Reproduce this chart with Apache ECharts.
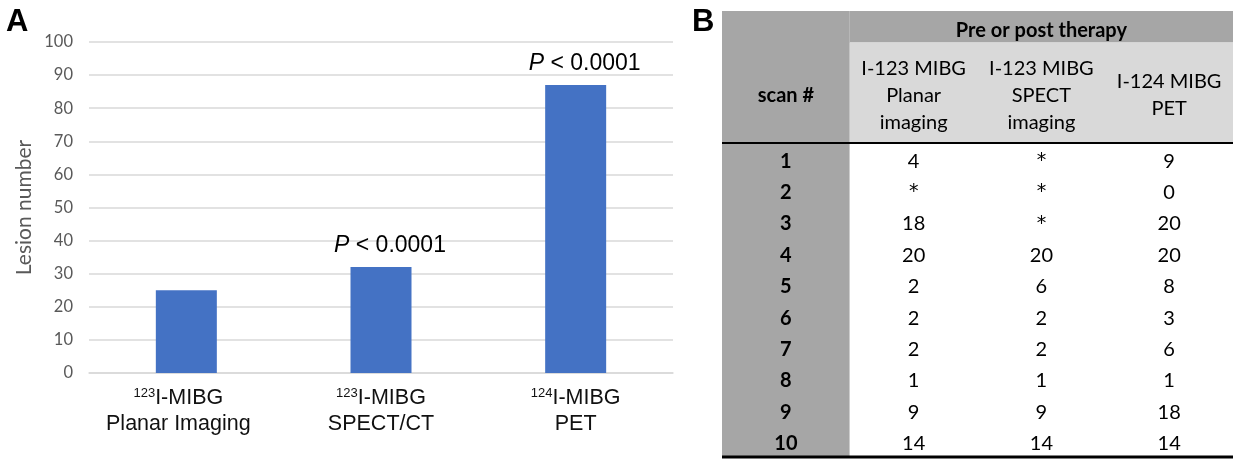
<!DOCTYPE html>
<html>
<head>
<meta charset="utf-8">
<script src="https://cdn.jsdelivr.net/npm/echarts@6/dist/echarts.min.js"></script>
<style>
  html, body { margin: 0; padding: 0; background: #fff; }
  #main { width: 1233px; height: 459px; }
</style>
</head>
<body>
<div id="main"></div>
<script>
// panel A data
var barIsotopes = ['123', '123', '124'];
var barNames = ['Planar Imaging', 'SPECT/CT', 'PET'];
var lesionCounts = [25, 32, 87];
var pLabels = ['', 'P < 0.0001', 'P < 0.0001'];
var yTicks = [0, 10, 20, 30, 40, 50, 60, 70, 80, 90, 100];

// panel B data
var groupHead = 'Pre or post therapy';
var rowHead = 'scan #';
var columnHeads = ['I-123 MIBG\nPlanar\nimaging', 'I-123 MIBG\nSPECT\nimaging', 'I-124 MIBG\nPET'];
var scanNumbers = ['1', '2', '3', '4', '5', '6', '7', '8', '9', '10'];
var planarCounts = ['4', '*', '18', '20', '2', '2', '2', '1', '9', '14'];
var spectCounts = ['*', '*', '*', '20', '6', '2', '2', '1', '9', '14'];
var petCounts = ['9', '0', '20', '20', '8', '3', '6', '1', '18', '14'];

var DARK = '#a6a6a6', LIGHT = '#d9d9d9';
var tableFont = 'Lato, "Noto Sans", sans-serif';
var arial = '"Liberation Sans", Arial, sans-serif';

// table layout in (column, row) units; header sits above row 0
var HEAD_TOP = -4.2, SUB_TOP = -3.2;
var nRows = scanNumbers.length;
var blocks = [
  { x0: 0, x1: 1, y0: HEAD_TOP, y1: nRows, fill: DARK },
  { x0: 1, x1: 4, y0: HEAD_TOP, y1: SUB_TOP, fill: DARK },
  { x0: 1, x1: 4, y0: SUB_TOP, y1: 0, fill: LIGHT },
  { x0: 1, x1: 4, y0: 0, y1: nRows, fill: '#fff' }
];
var cells = [];
cells.push({ x0: 0, x1: 1, y0: SUB_TOP, y1: 0, text: rowHead, bold: true });
cells.push({ x0: 1, x1: 4, y0: HEAD_TOP, y1: SUB_TOP, text: groupHead, bold: true, dy: 4 });
columnHeads.forEach(function (h, c) {
  cells.push({ x0: c + 1, x1: c + 2, y0: SUB_TOP, y1: 0, text: h });
});
scanNumbers.forEach(function (s, r) {
  cells.push({ x0: 0, x1: 1, y0: r, y1: r + 1, text: s, bold: true });
  [planarCounts, spectCounts, petCounts].forEach(function (col, c) {
    cells.push({ x0: c + 1, x1: c + 2, y0: r, y1: r + 1, text: col[r] });
  });
});
var rules = [
  { x0: 0, x1: 4, y: 0, w: 2 },
  { x0: 0, x1: 4, y: nRows, w: 3 }
];

function renderBlock(params, api) {
  var d = blocks[params.dataIndex];
  var p0 = api.coord([d.x0, d.y0]);
  var p1 = api.coord([d.x1, d.y1]);
  return { type: 'rect', shape: { x: p0[0], y: p0[1], width: p1[0] - p0[0], height: p1[1] - p0[1] },
           style: { fill: d.fill } };
}

function renderCell(params, api) {
  var d = cells[params.dataIndex];
  var p0 = api.coord([d.x0, d.y0]);
  var p1 = api.coord([d.x1, d.y1]);
  var star = d.text === '*';
  return {
    type: 'text', style: {
      text: d.text, x: (p0[0] + p1[0]) / 2, y: (p0[1] + p1[1]) / 2 + (d.dy || 2.5),
      align: 'center', verticalAlign: 'middle',
      fontFamily: star ? '"DejaVu Sans"' : tableFont, fontSize: star ? 19 : 20, lineHeight: 27,
      fontWeight: d.bold ? 'bold' : 'normal', fill: '#000'
    }
  };
}

function renderRule(params, api) {
  var d = rules[params.dataIndex];
  var a = api.coord([d.x0, d.y]);
  var b = api.coord([d.x1, d.y]);
  return { type: 'line', shape: { x1: a[0], y1: a[1], x2: b[0], y2: b[1] },
           style: { stroke: '#000', lineWidth: d.w } };
}

var chart = echarts.init(document.getElementById('main'));
chart.setOption({
  animation: false,
  textStyle: { fontFamily: arial },
  graphic: [
    { type: 'text', left: 6, top: 7, style: { text: 'A', fontSize: 31, fontWeight: 'bold', fill: '#000', fontFamily: arial } },
    { type: 'text', left: 692, top: 7, style: { text: 'B', fontSize: 31, fontWeight: 'bold', fill: '#000', fontFamily: arial } }
  ],
  grid: [
    { left: 89, right: 560, top: 42, bottom: 86 },
    { left: 722, right: 0, top: 11, bottom: 2 }
  ],
  xAxis: [
    {
      gridIndex: 0, type: 'category',
      data: barNames.map(function (n, i) {
        var item = { value: '{sup|' + barIsotopes[i] + '}{t|I-MIBG}\n{t|' + n + '}' };
        if (i === 0) item.textStyle = { padding: [0, 16, 0, 0] };
        return item;
      }),
      axisLine: { lineStyle: { color: LIGHT, width: 1.5 } },
      axisTick: { show: false },
      axisLabel: {
        margin: 12, interval: 0,
        rich: {
          t: { fontSize: 21.5, color: '#111', lineHeight: 26, fontFamily: arial },
          sup: { fontSize: 13, color: '#111', lineHeight: 26, padding: [0, 0, 9, 0], fontFamily: arial }
        }
      }
    },
    { gridIndex: 1, type: 'value', min: 0, max: 4, show: false }
  ],
  yAxis: [
    {
      gridIndex: 0, type: 'value',
      min: yTicks[0], max: yTicks[yTicks.length - 1], interval: yTicks[1] - yTicks[0],
      name: 'Lesion number', nameLocation: 'middle', nameGap: 54,
      nameTextStyle: { fontSize: 21, color: '#595959', fontFamily: tableFont },
      axisLine: { show: false }, axisTick: { show: false },
      axisLabel: { fontSize: 16.5, color: '#595959', margin: 16, fontFamily: tableFont },
      splitLine: { lineStyle: { color: LIGHT, width: 1.5 } }
    },
    { gridIndex: 1, type: 'value', inverse: true, min: HEAD_TOP, max: nRows, show: false }
  ],
  series: [
    {
      type: 'bar', xAxisIndex: 0, yAxisIndex: 0,
      barWidth: 61,
      itemStyle: { color: '#4472c4' },
      data: lesionCounts.map(function (v, i) {
        return {
          value: v,
          label: {
            show: pLabels[i] !== '', position: 'top', distance: 8, offset: [9, 0],
            formatter: '{i|P}' + pLabels[i].slice(1),
            fontSize: 23, color: '#000', lineHeight: 26,
            rich: { i: { fontSize: 23, fontStyle: 'italic', color: '#000', lineHeight: 26 } }
          }
        };
      })
    },
    {
      type: 'custom', xAxisIndex: 1, yAxisIndex: 1, clip: false, z: 1,
      renderItem: renderBlock,
      data: blocks.map(function (b) { return [b.x0, b.y0, b.x1, b.y1]; })
    },
    {
      type: 'custom', xAxisIndex: 1, yAxisIndex: 1, clip: false, z: 3,
      renderItem: renderCell,
      data: cells.map(function (c) { return [c.x0, c.y0, c.x1, c.y1]; })
    },
    {
      type: 'custom', xAxisIndex: 1, yAxisIndex: 1, clip: false, z: 5,
      renderItem: renderRule,
      data: rules.map(function (r) { return [r.x0, r.y, r.x1, r.y]; })
    }
  ]
});
</script>
</body>
</html>
